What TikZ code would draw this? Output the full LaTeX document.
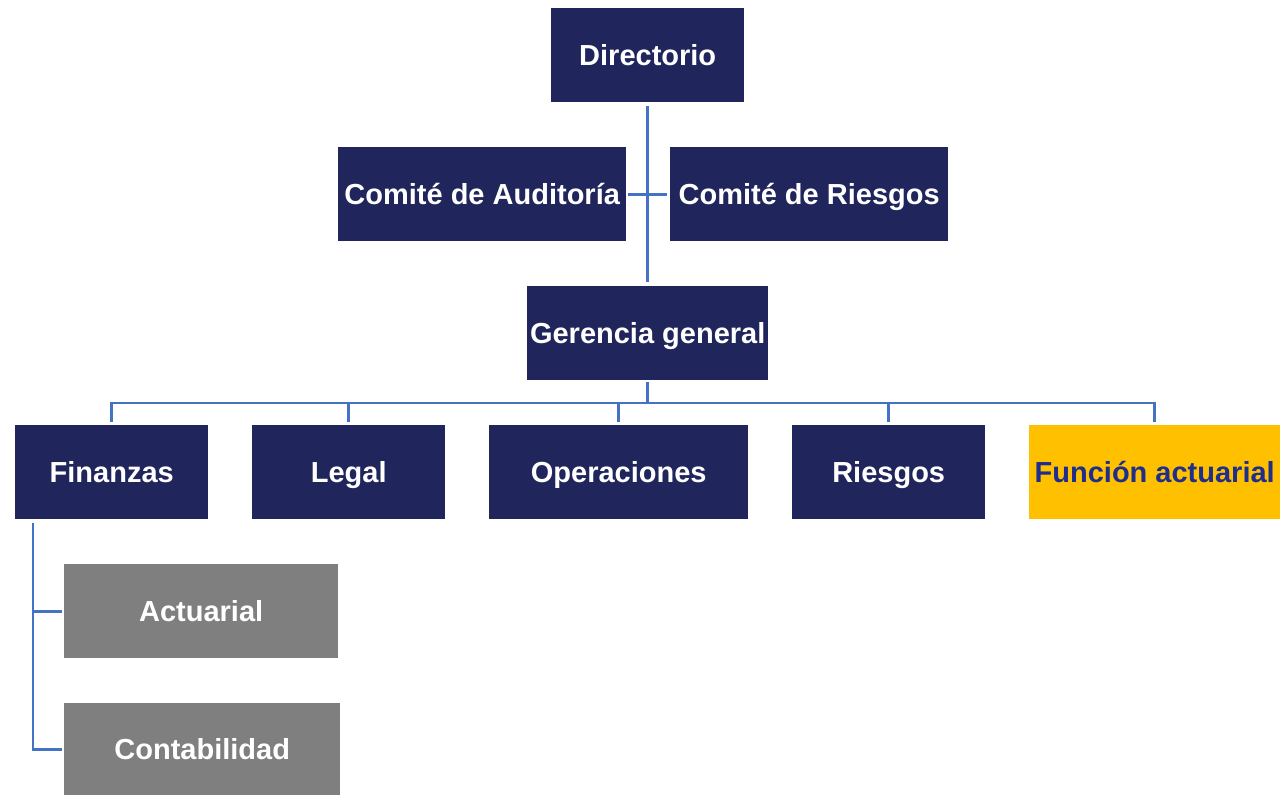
\documentclass[tikz,border=0pt]{standalone}
\usepackage{fontspec}
\setmainfont{Liberation Sans}
\definecolor{navy}{HTML}{20255C}
\definecolor{lineblue}{HTML}{4472C4}
\definecolor{gold}{HTML}{FFC000}
\definecolor{goldtext}{HTML}{1F2D8C}
\definecolor{greybox}{HTML}{7F7F7F}
\begin{document}
\begin{tikzpicture}[x=1pt,y=-1pt,
  box/.style={fill=navy,text=white,font=\fontsize{29}{34}\selectfont\bfseries,inner sep=0pt,anchor=north west,text height=21pt,text depth=0pt},
  greyb/.style={box,fill=greybox},
  goldb/.style={box,fill=gold,text=goldtext},
  conn/.style={draw=lineblue,line width=2.6pt}]
\useasboundingbox (0,0) rectangle (1281,795);
\node[box,minimum width=193pt,minimum height=94pt] (dir) at (551,8) {Directorio};
\node[box,minimum width=288pt,minimum height=94pt] (aud) at (338,147) {Comité de Auditoría};
\node[box,minimum width=278pt,minimum height=94pt] (rie) at (670,147) {Comité de Riesgos};
\node[box,minimum width=241pt,minimum height=94pt] (ger) at (527,286) {Gerencia general};
\node[box,minimum width=193pt,minimum height=94pt] (fin) at (15,425) {Finanzas};
\node[box,minimum width=193pt,minimum height=94pt] (leg) at (252,425) {Legal};
\node[box,minimum width=259pt,minimum height=94pt] (ope) at (489,425) {Operaciones};
\node[box,minimum width=193pt,minimum height=94pt] (rsg) at (792,425) {Riesgos};
\node[goldb,minimum width=251pt,minimum height=94pt] (fun) at (1029,425) {Función actuarial};
\node[greyb,minimum width=274pt,minimum height=94pt] (act) at (64,564) {Actuarial};
\node[greyb,minimum width=276pt,minimum height=92pt] (con) at (64,703) {Contabilidad};
% connectors
\coordinate (busy) at (0,403);
\draw[conn] ([yshift=-4pt]dir.south) -- ([yshift=4pt]ger.north);
\draw[conn] ([xshift=2pt]aud.east) -- ([xshift=-3pt]rie.west);
\draw[conn] ([yshift=-2pt]ger.south) -- (ger.south |- busy);
\draw[conn] ([yshift=3pt]fin.north) -- (fin.north |- busy) -- (fun.north |- busy) -- ([yshift=3pt]fun.north);
\foreach \n in {leg,ope,rsg} \draw[conn] ([yshift=3pt]\n.north) -- (\n.north |- busy);
\coordinate (fx) at (33,0);
\draw[conn] (fx |- fin.south) ++(0,4) -- (fx |- con.west) -- ([xshift=-2pt]con.west);
\draw[conn] (fx |- act.west) -- ([xshift=-2pt]act.west);
\end{tikzpicture}
\end{document}
